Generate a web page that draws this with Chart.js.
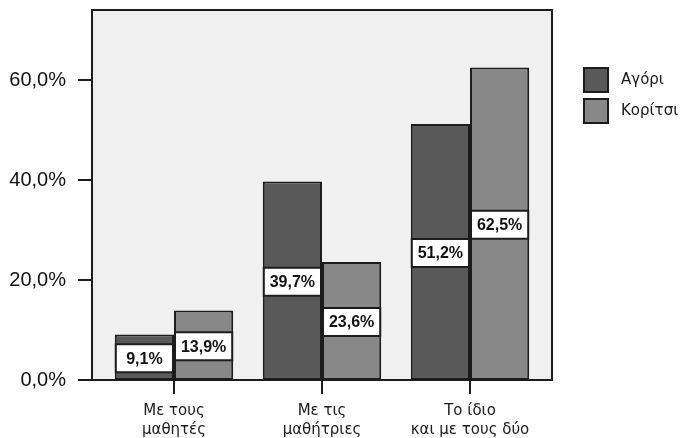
<!DOCTYPE html>
<html>
<head>
<meta charset="utf-8">
<script src="https://cdn.jsdelivr.net/npm/chart.js@4/dist/chart.umd.min.js"></script>
<style>
  html, body { margin: 0; padding: 0; background: #ffffff; }
  #wrap { width: 680px; height: 438px; }
</style>
</head>
<body>
<div id="wrap"><canvas id="chart" width="680" height="438"></canvas></div>
<script>
// Categories (multi-line labels) and percentages per group
const categories = [
  ['Με τους', 'μαθητές'],
  ['Με τις', 'μαθήτριες'],
  ['Το ίδιο', 'και με τους δύο']
];
const seriesNames = ['Αγόρι', 'Κορίτσι'];
const boysValues = [9.1, 39.7, 51.2];
const girlsValues = [13.9, 23.6, 62.5];
const yTicks = [0, 20, 40, 60];

const seriesColors = ['#595959', '#888888'];
const lineColor = '#1c1c1c';
const frameBg = '#f0f0f0';

const fmtPct = v => v.toFixed(1).replace('.', ',') + '%';

// Plot frame extends a little beyond the category band on each side
const FRAME_PAD = 8;

const framePlugin = {
  id: 'frame',
  beforeDraw(chart) {
    const { ctx, chartArea: a } = chart;
    ctx.save();
    ctx.fillStyle = frameBg;
    ctx.fillRect(a.left - FRAME_PAD, a.top, (a.right - a.left) + 2 * FRAME_PAD, a.bottom - a.top);
    ctx.restore();
  },
  afterDatasetsDraw(chart) {
    const { ctx, chartArea: a, scales } = chart;
    ctx.save();
    ctx.strokeStyle = lineColor;
    ctx.lineWidth = 2;
    ctx.strokeRect(a.left - FRAME_PAD, a.top, (a.right - a.left) + 2 * FRAME_PAD, a.bottom - a.top);
    // y tick marks outside the frame
    const x0 = a.left - FRAME_PAD;
    scales.y.ticks.forEach(t => {
      const y = Math.round(scales.y.getPixelForValue(t.value));
      ctx.beginPath();
      ctx.moveTo(x0 - 14, y);
      ctx.lineTo(x0, y);
      ctx.stroke();
    });
    ctx.restore();
  }
};

// White value boxes centred on each bar
const valueBoxPlugin = {
  id: 'valueBoxes',
  afterDatasetsDraw(chart) {
    const { ctx } = chart;
    ctx.save();
    chart.data.datasets.forEach((ds, di) => {
      const meta = chart.getDatasetMeta(di);
      meta.data.forEach((bar, i) => {
        const v = ds.data[i];
        const w = bar.width;
        const h = 28;
        const cx = bar.x;
        const cy = (bar.y + bar.base) / 2 + 1;
        const left = cx - w / 2 + 1;
        ctx.fillStyle = '#ffffff';
        ctx.fillRect(left, cy - h / 2, w - 2, h);
        ctx.strokeStyle = lineColor;
        ctx.lineWidth = 2;
        ctx.strokeRect(left, cy - h / 2, w - 2, h);
        ctx.fillStyle = '#111111';
        ctx.font = 'bold 16px "Liberation Sans", Arial, sans-serif';
        ctx.textAlign = 'center';
        ctx.textBaseline = 'middle';
        ctx.fillText(fmtPct(v), cx, cy + 1);
      });
    });
    ctx.restore();
  }
};

// Legend on the right
const sideLegendPlugin = {
  id: 'sideLegend',
  afterDraw(chart) {
    const { ctx } = chart;
    ctx.save();
    chart.data.datasets.forEach((ds, i) => {
      const x = 583, y = 67 + i * 31, s = 26;
      ctx.fillStyle = ds.backgroundColor;
      ctx.fillRect(x, y, s, s);
      ctx.strokeStyle = lineColor;
      ctx.lineWidth = 2;
      ctx.strokeRect(x + 1, y + 1, s - 2, s - 2);
      ctx.fillStyle = '#1a1a1a';
      ctx.font = '15px "DejaVu Sans", sans-serif';
      ctx.textAlign = 'left';
      ctx.textBaseline = 'middle';
      ctx.fillText(ds.label, 621, y + s / 2);
    });
    ctx.restore();
  }
};

new Chart(document.getElementById('chart'), {
  type: 'bar',
  data: {
    labels: categories,
    datasets: [
      { label: seriesNames[0], data: boysValues, backgroundColor: seriesColors[0] },
      { label: seriesNames[1], data: girlsValues, backgroundColor: seriesColors[1] }
    ]
  },
  options: {
    responsive: false,
    animation: false,
    devicePixelRatio: 1,
    layout: { autoPadding: false, padding: { top: 10, right: 136, left: 0, bottom: 0 } },
    datasets: {
      bar: {
        categoryPercentage: 0.8,
        barPercentage: 1.0,
        borderColor: lineColor,
        borderWidth: 2,
        borderSkipped: false
      }
    },
    plugins: {
      legend: { display: false },
      tooltip: { enabled: false }
    },
    scales: {
      x: {
        offset: true,
        grid: {
          display: true,
          offset: false,
          drawOnChartArea: false,
          drawTicks: true,
          tickLength: 14,
          color: lineColor,
          lineWidth: 2
        },
        border: { display: false },
        ticks: {
          padding: 8,
          color: '#1a1a1a',
          maxRotation: 0,
          autoSkip: false,
          font: { family: '"DejaVu Sans", sans-serif', size: 15, lineHeight: 1.25 }
        },
        afterFit(scale) {
          scale.height = 58;
          scale.paddingLeft = 0;
          scale.paddingRight = 0;
        }
      },
      y: {
        min: 0,
        max: 74,
        grid: { display: false, drawTicks: false },
        border: { display: false },
        afterBuildTicks(scale) { scale.ticks = yTicks.map(v => ({ value: v })); },
        ticks: {
          padding: 34,
          color: '#111111',
          font: { family: '"Liberation Sans", Arial, sans-serif', size: 20 },
          callback: v => fmtPct(v)
        },
        afterFit(scale) {
          scale.width = 100;
          scale.paddingTop = 0;
          scale.paddingBottom = 0;
        }
      }
    }
  },
  plugins: [framePlugin, valueBoxPlugin, sideLegendPlugin]
});
</script>
</body>
</html>
